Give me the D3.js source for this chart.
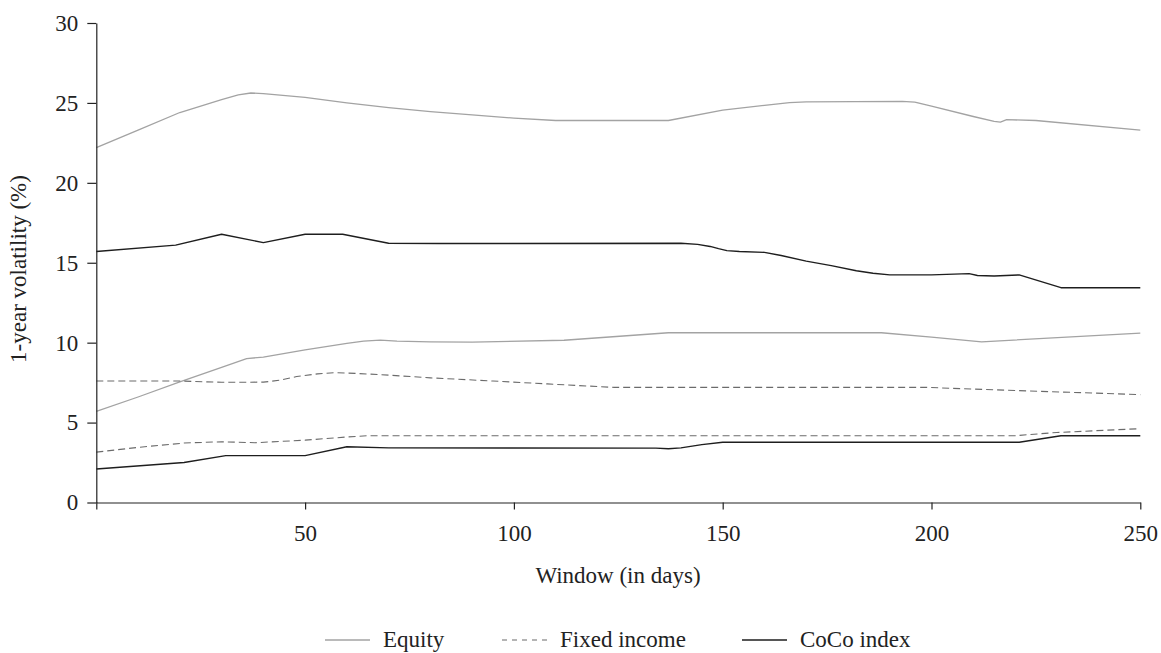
<!DOCTYPE html>
<html>
<head>
<meta charset="utf-8">
<script src="https://cdn.jsdelivr.net/npm/d3@7"></script>
<style>
  body { margin: 0; background: #fff; }
  svg { font-family: "Liberation Serif", "DejaVu Serif", "Times New Roman", serif; }
</style>
</head>
<body>
<svg id="viz" width="1161" height="653"></svg>
<script>
// [window in days, 1-year volatility %]
let equityUpper = [[0,22.2],[10,23.3],[20,24.4],[30,25.2],[34,25.5],[37,25.62],[40,25.58],[50,25.35],[60,25.0],
  [70,24.7],[80,24.45],[90,24.25],[100,24.05],[110,23.9],[137,23.9],[150,24.55],[160,24.85],
  [166,25.02],[170,25.07],[193,25.1],[196,25.05],[200,24.8],[210,24.15],[215,23.85],[216.5,23.8],[218,23.95],[225,23.9],[250,23.3]];
let equityLower = [[0,5.7],[10,6.6],[20,7.55],[30,8.45],[36,9.0],[40,9.1],[50,9.55],[60,9.95],
  [64,10.1],[68,10.16],[72,10.1],[80,10.05],[90,10.03],[112,10.15],[137,10.62],[188,10.62],[200,10.35],
  [212,10.05],[250,10.6]];
let fixedUpper = [[0,7.6],[20,7.6],[30,7.52],[40,7.53],[44,7.65],[48,7.88],[53,8.05],[57,8.12],[62,8.08],[68,8.0],[80,7.8],
  [95,7.6],[108,7.42],[124,7.2],[199,7.2],[215,7.05],[250,6.75]];
let fixedLower = [[0,3.15],[10,3.45],[21,3.72],[30,3.8],[38,3.74],[50,3.9],[60,4.1],[65,4.18],
  [220,4.18],[230,4.38],[250,4.62]];
let cocoUpper = [[0,15.7],[19,16.1],[30,16.78],[40,16.26],[50,16.78],[59,16.78],[70,16.22],[82,16.2],
  [140,16.22],[144,16.15],[147,16.02],[149,15.88],[151,15.76],[154,15.7],[160,15.65],[164,15.45],[170,15.1],[176,14.82],[182,14.5],
  [186,14.34],[190,14.24],[200,14.24],[209,14.32],[211,14.2],[215,14.17],[221,14.24],[231,13.44],[250,13.44]];
let cocoLower = [[0,2.1],[21,2.5],[31,2.93],[50,2.93],[60,3.49],[70,3.42],[134,3.4],[137,3.36],
  [140,3.42],[145,3.62],[150,3.77],[221,3.77],[231,4.18],[250,4.18]];

let xTicks = [0, 50, 100, 150, 200, 250];
let yTicks = [0, 5, 10, 15, 20, 25, 30];
let legendNames = ["Equity", "Fixed income", "CoCo index"];

let series = [
  {name: "Equity", data: equityUpper},
  {name: "Equity", data: equityLower},
  {name: "Fixed income", data: fixedUpper},
  {name: "Fixed income", data: fixedLower},
  {name: "CoCo index", data: cocoUpper},
  {name: "CoCo index", data: cocoLower}
];

let styles = {
  "Equity": {color: "#a3a3a3", width: 1.3, dash: null},
  "Fixed income": {color: "#6b6b6b", width: 1.1, dash: "7,4"},
  "CoCo index": {color: "#1e1e1e", width: 1.4, dash: null}
};

let fontSize = 23;

let svg = d3.select("#viz");
let x = d3.scaleLinear().domain([0, 250]).range([96.3, 1140.3]);
let y = d3.scaleLinear().domain([0, 30]).range([502.5, 23]);

let line = d3.line()
  .x(d => x(d[0]))
  .y(d => y(d[1]));

svg.selectAll(".series")
  .data(series)
  .enter()
  .append("path")
  .attr("class", "series")
  .attr("fill", "none")
  .attr("stroke-linejoin", "round")
  .attr("d", d => line(d.data))
  .attr("stroke", d => styles[d.name].color)
  .attr("stroke-width", d => styles[d.name].width)
  .attr("stroke-dasharray", d => styles[d.name].dash);

let xAxis = svg.append("g")
  .attr("transform", "translate(0," + y(0) + ")")
  .call(d3.axisBottom(x).tickValues(xTicks).tickSize(7).tickSizeOuter(0).tickPadding(15)
    .tickFormat(d => d === 0 ? "" : d));

let yAxis = svg.append("g")
  .attr("transform", "translate(" + x(0) + ",0)")
  .call(d3.axisLeft(y).tickValues(yTicks).tickSize(9).tickSizeOuter(0).tickPadding(9));

[xAxis, yAxis].forEach(g => {
  g.selectAll("path, line").attr("stroke", "#222").attr("stroke-width", 1.2);
  g.selectAll("text").attr("font-size", fontSize).attr("fill", "#222")
    .style("font-family", "'Liberation Serif', 'DejaVu Serif', serif");
});

svg.append("text")
  .attr("x", 618)
  .attr("y", 583)
  .attr("text-anchor", "middle")
  .attr("font-size", fontSize)
  .attr("fill", "#222")
  .text("Window (in days)");

svg.append("text")
  .attr("transform", "translate(26,269) rotate(-90)")
  .attr("text-anchor", "middle")
  .attr("font-size", fontSize)
  .attr("fill", "#222")
  .text("1-year volatility (%)");

// legend
let legendX = [325, 502, 742];
let legend = svg.selectAll(".legend")
  .data(legendNames)
  .enter()
  .append("g")
  .attr("class", "legend")
  .attr("transform", (d, i) => "translate(" + legendX[i] + ",640)");

legend.append("line")
  .attr("x1", 0).attr("x2", 45)
  .attr("stroke", d => styles[d].color)
  .attr("stroke-width", d => styles[d].width)
  .attr("stroke-dasharray", d => styles[d].dash ? "5,5" : null);

legend.append("text")
  .attr("x", 58)
  .attr("y", 7)
  .attr("font-size", fontSize)
  .attr("fill", "#222")
  .text(d => d);
</script>
</body>
</html>
